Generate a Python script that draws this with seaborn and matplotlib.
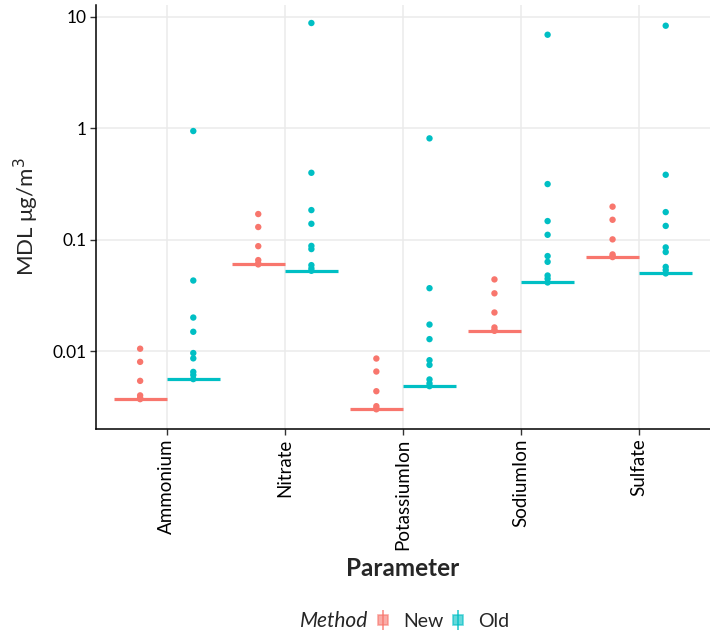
import numpy as np
import pandas as pd
import matplotlib
matplotlib.use("Agg")
import matplotlib.pyplot as plt
from matplotlib.lines import Line2D
from matplotlib.legend_handler import HandlerTuple
from matplotlib.ticker import FixedLocator, NullLocator
import seaborn as sns

# ---------------- data ----------------
params = ["Ammonium", "Nitrate", "PotassiumIon", "SodiumIon", "Sulfate"]
methods = ["New", "Old"]

ammonium_new = [0.0105, 0.0080, 0.0054, 0.0040, 0.0038, 0.0037]
ammonium_old = [0.946, 0.043, 0.020, 0.0149, 0.0096, 0.0086, 0.0065, 0.0061, 0.0056]
nitrate_new = [0.170, 0.130, 0.0875, 0.0656, 0.0612, 0.060]
nitrate_old = [8.83, 0.399, 0.1845, 0.139, 0.088, 0.0824, 0.0591, 0.0552, 0.0526]
potassium_new = [0.00857, 0.00655, 0.00436, 0.0032, 0.00305, 0.0030]
potassium_old = [0.813, 0.0367, 0.0173, 0.0128, 0.00828, 0.00751, 0.00556, 0.00512, 0.00484]
sodium_new = [0.044, 0.033, 0.0222, 0.0163, 0.0154, 0.0152]
sodium_old = [6.93, 0.316, 0.147, 0.1107, 0.0713, 0.0633, 0.0477, 0.0446, 0.0413]
sulfate_new = [0.198, 0.151, 0.1007, 0.0738, 0.0710, 0.0698]
sulfate_old = [8.35, 0.383, 0.177, 0.133, 0.0853, 0.0775, 0.057, 0.0533, 0.0498]

new_line = [0.0037, 0.060, 0.0030, 0.0152, 0.0698]
old_line = [0.00562, 0.0526, 0.00484, 0.0413, 0.0498]

tick_values = [0.01, 0.1, 1, 10]
tick_labels = ["0.01", "0.1", "1", "10"]

colors = {"New": "#F8766D", "Old": "#00BFC4"}

# ---------------- table ----------------
series = {
    ("Ammonium", "New"): ammonium_new, ("Ammonium", "Old"): ammonium_old,
    ("Nitrate", "New"): nitrate_new, ("Nitrate", "Old"): nitrate_old,
    ("PotassiumIon", "New"): potassium_new, ("PotassiumIon", "Old"): potassium_old,
    ("SodiumIon", "New"): sodium_new, ("SodiumIon", "Old"): sodium_old,
    ("Sulfate", "New"): sulfate_new, ("Sulfate", "Old"): sulfate_old,
}
rows = []
for (p, m), vals in series.items():
    for v in vals:
        rows.append({"Parameter": p, "Method": m, "MDL": v})
df = pd.DataFrame(rows)

# ---------------- style ----------------
sns.set_theme(style="white")
plt.rcParams["font.family"] = ["Lato", "DejaVu Sans"]

fig = plt.figure(figsize=(7.10, 6.37), dpi=100)
ax = fig.add_axes([0.135, 0.3265, 0.865, 0.6657])

sns.stripplot(data=df, x="Parameter", y="MDL", hue="Method", order=params,
              hue_order=methods, palette=colors, dodge=True, jitter=False,
              size=4.6, linewidth=0, ax=ax, legend=False, zorder=3)

# widen dodge to ggplot's +/-0.225
for coll in ax.collections:
    offs = coll.get_offsets()
    if len(offs):
        centers = np.round(offs[:, 0])
        offs[:, 0] = centers + (offs[:, 0] - centers) * (0.225 / 0.2)
        coll.set_offsets(offs)

dodge = 0.225
half = 0.225
for i, p in enumerate(params):
    ax.hlines(new_line[i], i - dodge - half, i - dodge + half,
              color=colors["New"], lw=2.3, zorder=4)
    ax.hlines(old_line[i], i + dodge - half, i + dodge + half,
              color=colors["Old"], lw=2.3, zorder=4)

ax.set_yscale("log")
ax.yaxis.set_major_locator(FixedLocator(tick_values))
ax.yaxis.set_minor_locator(NullLocator())
ax.set_yticklabels(tick_labels)
ax.set_ylim(10 ** -2.70, 10 ** 1.108)
ax.set_xlim(-0.6, len(params) - 0.4)

ax.grid(True, which="major", color="#EBEBEB", lw=1.1, zorder=0)
ax.set_axisbelow(True)
for s in ["top", "right"]:
    ax.spines[s].set_visible(False)
for s in ["left", "bottom"]:
    ax.spines[s].set_color("black")
    ax.spines[s].set_linewidth(1.1)

ax.tick_params(axis="both", which="major", direction="out", length=4,
               width=1.0, color="#333333", labelcolor="black",
               left=True, bottom=True, pad=3)
ax.tick_params(axis="x", labelsize=13.5)
ax.tick_params(axis="y", labelsize=12.5)
plt.setp(ax.get_xticklabels(), rotation=90, ha="center", va="top")

ax.set_xlabel("Parameter", fontsize=17.5, fontweight="bold", labelpad=5)
ax.set_ylabel("MDL \u03bcg/m$^3$", fontsize=16, labelpad=8)

# legend
fig.text(0.423, 0.025, "Method", fontsize=15, style="italic", ha="left",
         va="center")
handles = []
for m in methods:
    h1 = Line2D([], [], marker="|", markersize=14, mew=1.3, color=colors[m],
                ls="none", alpha=0.75)
    h2 = Line2D([], [], marker="s", markersize=7, mfc=colors[m], mew=1.2,
                mec=colors[m], ls="none", alpha=0.6)
    handles.append((h1, h2))
leg = fig.legend(handles, methods, loc="center left",
                 bbox_to_anchor=(0.533, 0.025), ncol=2, frameon=False,
                 fontsize=14, handler_map={tuple: HandlerTuple(ndivide=1, pad=0)},
                 handlelength=0.5, handletextpad=0.8, columnspacing=0.45,
                 borderaxespad=0, borderpad=0)

fig.savefig("out.png", dpi=100)
